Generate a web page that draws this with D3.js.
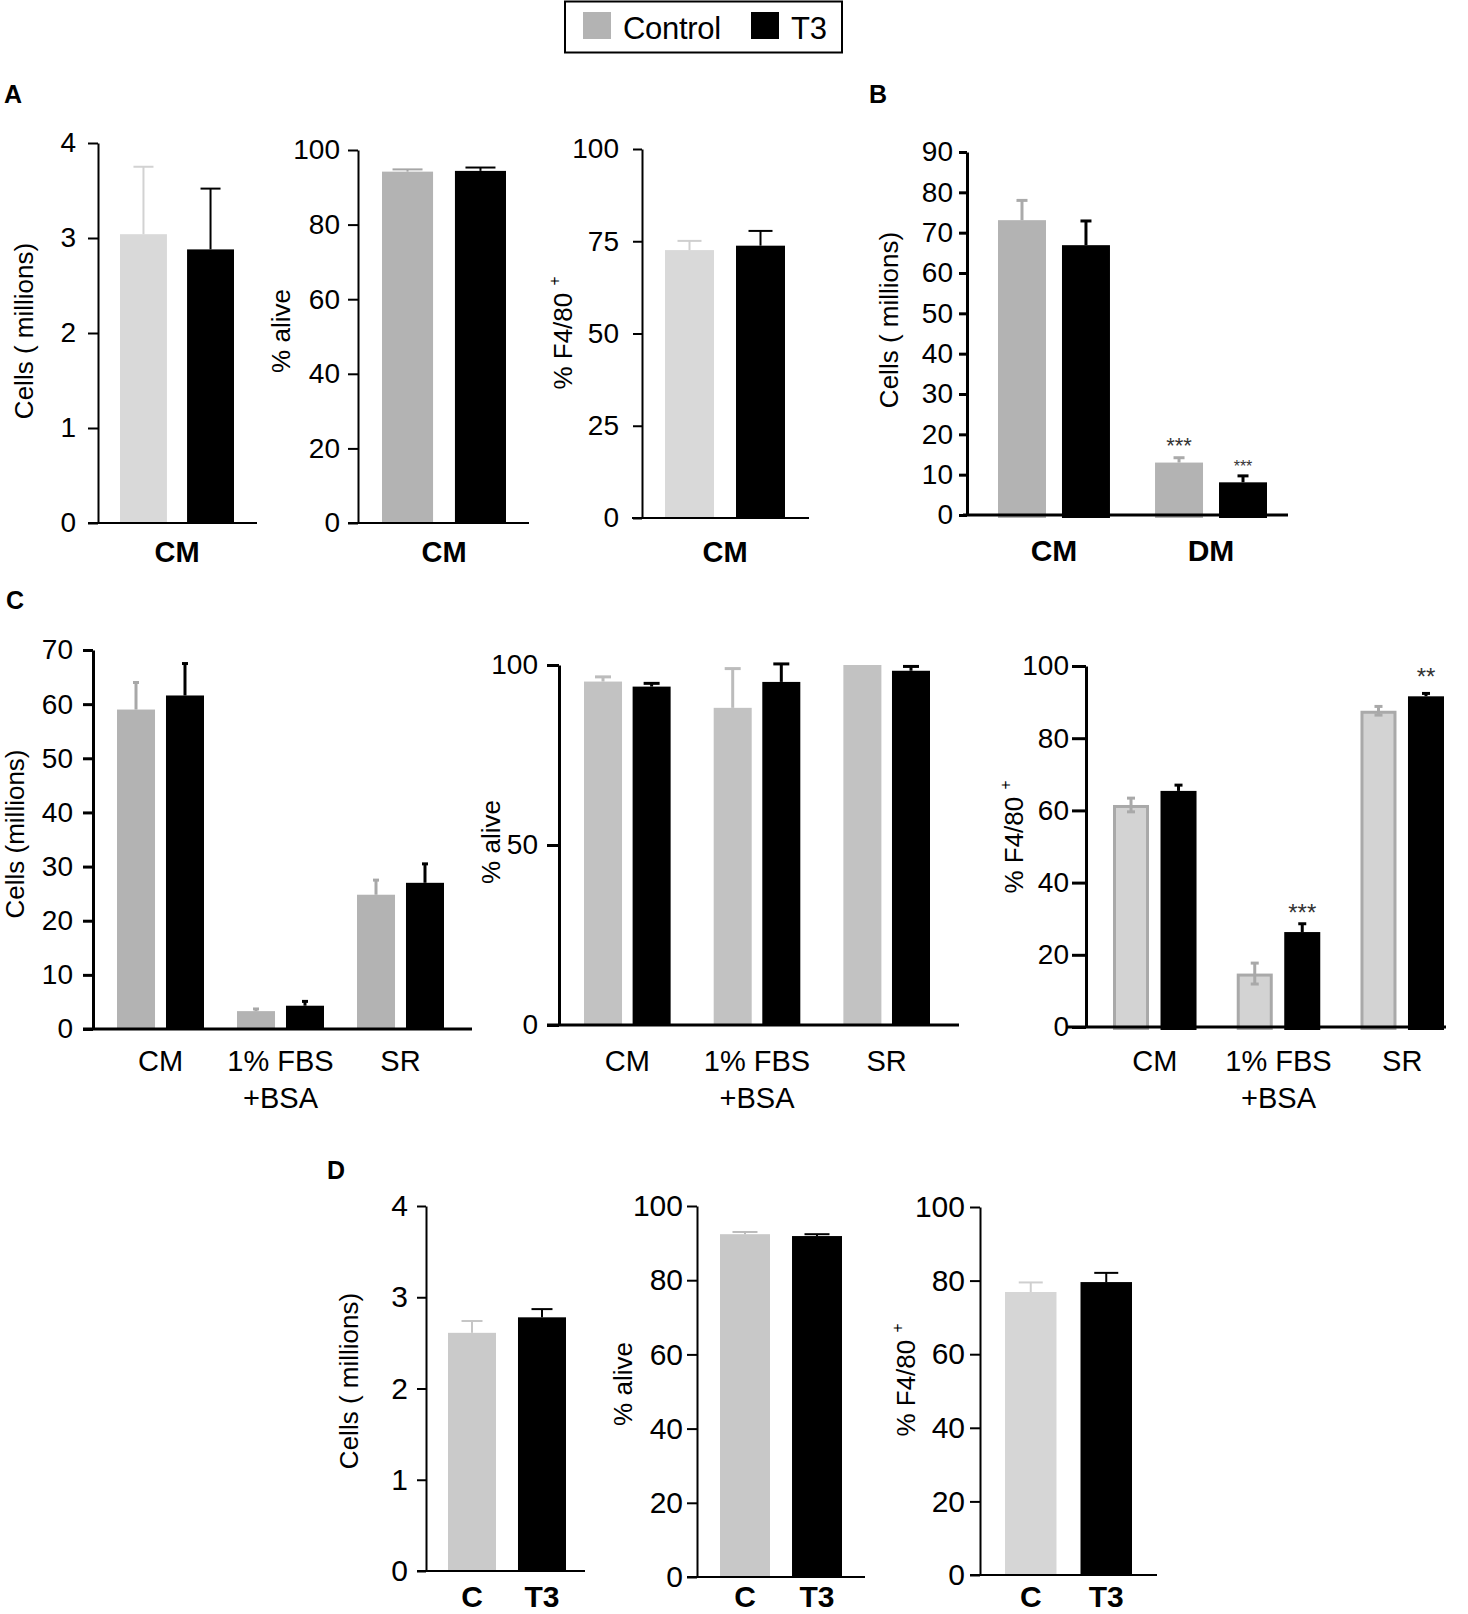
<!DOCTYPE html>
<html>
<head>
<meta charset="utf-8">
<script src="https://cdn.jsdelivr.net/npm/d3@7"></script>
<style>
  body { margin: 0; background: #fff; }
  svg { display: block; font-family: "Liberation Sans", Arial, Helvetica, sans-serif; }
</style>
</head>
<body>
<svg id="fig" width="1468" height="1614"></svg>
<script>
// ---- data (mean, upper error) ----
const series = ["Control", "T3"];

const aCategory = ["CM"];
const aCellsMean = [3.04, 2.88],  aCellsErr = [0.71, 0.64];
const aAliveMean = [94.2, 94.4],  aAliveErr = [0.6, 0.9];
const aF480Mean  = [72.6, 73.8],  aF480Err  = [2.5, 4.0];

const bCategories = ["CM", "DM"];
const bControlMean = [73.1, 13.0], bControlErr = [4.9, 1.2];
const bT3Mean      = [66.9, 8.1],  bT3Err      = [6.0, 1.6];
const bStars = [["DM", "Control", "***", 22], ["DM", "T3", "***", 16]];

const cCategories = ["CM", "1% FBS|+BSA", "SR"];
const c1ControlMean = [59.0, 3.3, 24.8], c1ControlErr = [5.0, 0.4, 2.7];
const c1T3Mean      = [61.6, 4.3, 27.0], c1T3Err      = [5.9, 0.8, 3.5];
const c2ControlMean = [95.4, 88.1, 100], c2ControlErr = [1.3, 10.9, 0];
const c2T3Mean      = [94.0, 95.3, 98.4], c2T3Err     = [0.9, 5.0, 1.2];
const c3ControlMean = [61.5, 14.8, 87.6], c3ControlErr = [1.9, 2.9, 1.2];
const c3T3Mean      = [65.4, 26.3, 91.6], c3T3Err      = [1.6, 2.3, 0.8];
const c3Stars = [["1% FBS|+BSA", "T3", "***", 24], ["SR", "T3", "**", 24]];

const dCategories = ["C", "T3"];
const dCellsMean = [2.61, 2.78], dCellsErr = [0.13, 0.09];
const dAliveMean = [92.4, 91.9], dAliveErr = [0.6, 0.5];
const dF480Mean  = [76.9, 79.6], dF480Err  = [2.6, 2.5];

const ticks4   = [0, 1, 2, 3, 4];
const ticks20  = [0, 20, 40, 60, 80, 100];
const ticks25  = [0, 25, 50, 75, 100];
const ticksB   = d3.range(0, 91, 10);
const ticksC1  = d3.range(0, 71, 10);
const ticks50  = [0, 50, 100];

const svg = d3.select("#fig");

function rowsGrouped(cats, ctrlM, ctrlE, t3M, t3E) {
  return cats.flatMap((c, i) => [
    { cat: c, key: "Control", mean: ctrlM[i], err: ctrlE[i] },
    { cat: c, key: "T3", mean: t3M[i], err: t3E[i] }
  ]);
}
function rowsSingle(cats, m, e) {
  return cats.map((c, i) => ({ cat: c, key: series[i], mean: m[i], err: e[i] }));
}

function drawPanel(o) {
  const g = svg.append("g");
  const y = d3.scaleLinear().domain([0, o.max]).range([o.y0, o.y1]);
  const x = d3.scaleBand().domain(o.cats).range(o.xr).paddingInner(o.gp).paddingOuter(0);
  const xs = d3.scaleBand().domain(series).range([0, x.bandwidth()]).paddingInner(o.bp || 0);
  const bx = d => o.single ? x(d.cat) : x(d.cat) + xs(d.key);
  const bw = o.single ? x.bandwidth() : xs.bandwidth();
  const fill = d => d.key === "T3" ? "#000" : o.ctrl;
  const edge = d => d.key === "T3" ? "#000" : (o.ctrlEdge || o.ctrl);
  const sw = o.barStroke || 0;

  g.selectAll("rect.bar").data(o.rows).join("rect")
    .attr("class", "bar")
    .attr("x", d => bx(d) + sw / 2)
    .attr("width", bw - sw)
    .attr("y", d => y(d.mean) + sw / 2)
    .attr("height", d => y(0) - y(d.mean) + (o.sink || 0) - sw)
    .attr("fill", fill)
    .attr("stroke", sw ? edge : "none")
    .attr("stroke-width", sw);

  const eb = g.selectAll("g.err").data(o.rows.filter(d => d.err > 0)).join("g").attr("class", "err");
  eb.append("line")
    .attr("x1", d => bx(d) + bw / 2).attr("x2", d => bx(d) + bw / 2)
    .attr("y1", d => y(d.mean - (o.twoSided && d.key === "Control" ? d.err : 0)))
    .attr("y2", d => y(d.mean + d.err))
    .attr("stroke", d => d.key === "T3" ? "#000" : o.ctrlErr)
    .attr("stroke-width", o.esw);
  eb.append("line")
    .attr("x1", d => bx(d) + bw / 2 - o.cap / 2).attr("x2", d => bx(d) + bw / 2 + o.cap / 2)
    .attr("y1", d => y(d.mean + d.err)).attr("y2", d => y(d.mean + d.err))
    .attr("stroke", d => d.key === "T3" ? "#000" : o.ctrlErr)
    .attr("stroke-width", o.esw);
  if (o.twoSided) {
    eb.filter(d => d.key === "Control").append("line")
      .attr("x1", d => bx(d) + bw / 2 - o.cap / 2).attr("x2", d => bx(d) + bw / 2 + o.cap / 2)
      .attr("y1", d => y(d.mean - d.err)).attr("y2", d => y(d.mean - d.err))
      .attr("stroke", o.ctrlErr).attr("stroke-width", o.esw);
  }

  // significance marks
  (o.stars || []).forEach(([cat, key, txt, fs], i) => {
    const r = o.rows.find(d => d.cat === cat && d.key === key);
    g.append("text")
      .attr("x", bx(r) + bw / 2)
      .attr("y", y(r.mean + r.err) + o.starDy[i] + fs * 0.55)
      .attr("text-anchor", "middle")
      .attr("font-size", fs)
      .attr("fill", "#333")
      .text(txt);
  });

  // y axis
  const ag = g.append("g")
    .attr("transform", `translate(${o.ax},0)`)
    .call(d3.axisLeft(y).tickValues(o.ticks).tickFormat(d3.format("d"))
      .tickSize(o.tl).tickSizeOuter(0).tickPadding(o.tp))
    .attr("font-family", null).attr("font-size", null);
  ag.select(".domain").attr("stroke-width", o.lw);
  ag.selectAll(".tick line").attr("stroke-width", o.lw);
  ag.selectAll(".tick text").attr("font-size", o.fs).attr("fill", "#000");

  // x baseline
  g.append("line")
    .attr("x1", o.xa[0]).attr("x2", o.xa[1])
    .attr("y1", y(0)).attr("y2", y(0))
    .attr("stroke", "#000").attr("stroke-width", o.lw);

  // category labels
  g.selectAll("text.cat").data(o.cats).join("text")
    .attr("class", "cat")
    .attr("x", c => x(c) + x.bandwidth() / 2)
    .attr("y", o.ly)
    .attr("text-anchor", "middle")
    .attr("font-size", o.lfs)
    .attr("font-weight", o.lbold ? "bold" : "normal")
    .selectAll("tspan").data(c => c.split("|")).join("tspan")
      .attr("x", function () { return d3.select(this.parentNode).attr("x"); })
      .attr("dy", (t, i) => i ? 37 : 0)
      .text(t => t);

  // y title
  const t = g.append("text")
    .attr("transform", `translate(${o.tx},${o.ty}) rotate(-90)`)
    .attr("text-anchor", "middle")
    .attr("font-size", o.tfs);
  if (o.sup) {
    t.append("tspan").text(o.title + " ");
    t.append("tspan").attr("font-size", o.tfs * 0.6).attr("dy", -o.tfs * 0.45).text(o.sup);
  } else {
    t.text(o.title);
  }
}

const base = { esw: 2, lw: 2, fs: 28, tfs: 26 };

// ---- panel A ----
drawPanel({ ...base, cats: aCategory, rows: rowsGrouped(aCategory, [aCellsMean[0]], [aCellsErr[0]], [aCellsMean[1]], [aCellsErr[1]]),
  max: 4, ticks: ticks4, y0: 523, y1: 143, xr: [120, 234], gp: 0, bp: 0.3, ax: 98, xa: [88, 257],
  tl: 10, tp: 12, ctrl: "#d9d9d9", ctrlErr: "#d2d2d2", cap: 20,
  ly: 562, lfs: 29, lbold: true, title: "Cells ( millions)", tx: 33, ty: 331 });
drawPanel({ ...base, cats: aCategory, rows: rowsGrouped(aCategory, [aAliveMean[0]], [aAliveErr[0]], [aAliveMean[1]], [aAliveErr[1]]),
  max: 100, ticks: ticks20, y0: 523, y1: 150, xr: [382, 506], gp: 0, bp: 0.3, ax: 358, xa: [348, 529],
  tl: 10, tp: 8, ctrl: "#b3b3b3", ctrlErr: "#a6a6a6", cap: 30,
  ly: 562, lfs: 29, lbold: true, title: "% alive", tx: 290, ty: 331 });
drawPanel({ ...base, cats: aCategory, rows: rowsGrouped(aCategory, [aF480Mean[0]], [aF480Err[0]], [aF480Mean[1]], [aF480Err[1]]),
  max: 100, ticks: ticks25, y0: 518, y1: 149, xr: [665, 785], gp: 0, bp: 0.31, ax: 642, xa: [632, 809],
  tl: 9, tp: 14, ctrl: "#d9d9d9", ctrlErr: "#cfcfcf", cap: 24,
  ly: 562, lfs: 29, lbold: true, title: "% F4/80", sup: "+", tx: 572, ty: 333 });

// ---- panel B ----
drawPanel({ ...base, esw: 3, lw: 3, cats: bCategories,
  rows: rowsGrouped(bCategories, bControlMean, bControlErr, bT3Mean, bT3Err),
  max: 90, ticks: ticksB, y0: 515, y1: 152, xr: [998, 1267], gp: 0.287, bp: 0.25, ax: 967, xa: [963, 1288],
  tl: 8, tp: 6, ctrl: "#b3b3b3", ctrlErr: "#aaaaaa", cap: 11, sink: 3,
  stars: bStars, starDy: [-17, -13],
  ly: 561, lfs: 30, lbold: true, title: "Cells ( millions)", tx: 898, ty: 320 });

// ---- panel C ----
drawPanel({ ...base, esw: 3, lw: 3, tfs: 26, cats: cCategories,
  rows: rowsGrouped(cCategories, c1ControlMean, c1ControlErr, c1T3Mean, c1T3Err),
  max: 70, ticks: ticksC1, y0: 1029, y1: 650, xr: [117, 444], gp: 0.275, bp: 0.224, ax: 93, xa: [83, 472],
  tl: 10, tp: 10, ctrl: "#b3b3b3", ctrlErr: "#a8a8a8", cap: 6,
  ly: 1071, lfs: 29, title: "Cells (millions)", tx: 24, ty: 834 });
drawPanel({ ...base, esw: 3, lw: 3, tfs: 26, cats: cCategories,
  rows: rowsGrouped(cCategories, c2ControlMean, c2ControlErr, c2T3Mean, c2T3Err),
  max: 100, ticks: ticks50, y0: 1025, y1: 665, xr: [584, 930], gp: 0.332, bp: 0.218, ax: 559, xa: [547, 959],
  tl: 12, tp: 9, ctrl: "#c2c2c2", ctrlErr: "#bcbcbc", cap: 16,
  ly: 1071, lfs: 29, title: "% alive", tx: 500, ty: 842 });
drawPanel({ ...base, esw: 3, lw: 3, tfs: 26, cats: cCategories,
  rows: rowsGrouped(cCategories, c3ControlMean, c3ControlErr, c3T3Mean, c3T3Err),
  max: 100, ticks: ticks20, y0: 1027, y1: 666, xr: [1113, 1444], gp: 0.325, bp: 0.242, ax: 1086, xa: [1067, 1446],
  tl: 14, tp: 3, ctrl: "#d3d3d3", ctrlEdge: "#a9a9a9", barStroke: 3, ctrlErr: "#a9a9a9", cap: 8, sink: 3, twoSided: true,
  stars: c3Stars, starDy: [-16, -22],
  ly: 1071, lfs: 29, title: "% F4/80", sup: "+", tx: 1023, ty: 837 });

// ---- panel D ----
drawPanel({ ...base, fs: 30, single: true, cats: dCategories, rows: rowsSingle(dCategories, dCellsMean, dCellsErr),
  max: 4, ticks: ticks4, y0: 1571, y1: 1206, xr: [448, 566], gp: 0.314, ax: 426, xa: [417, 585],
  tl: 9, tp: 9, ctrl: "#cacaca", ctrlErr: "#c6c6c6", cap: 21,
  ly: 1607, lfs: 30, lbold: true, title: "Cells ( millions)", tx: 358, ty: 1381 });
drawPanel({ ...base, fs: 30, single: true, cats: dCategories, rows: rowsSingle(dCategories, dAliveMean, dAliveErr),
  max: 100, ticks: ticks20, y0: 1577, y1: 1206, xr: [720, 842], gp: 0.306, ax: 697, xa: [687, 865],
  tl: 10, tp: 4, ctrl: "#c8c8c8", ctrlErr: "#bbbbbb", cap: 25,
  ly: 1607, lfs: 30, lbold: true, title: "% alive", tx: 632, ty: 1384 });
drawPanel({ ...base, fs: 30, single: true, cats: dCategories, rows: rowsSingle(dCategories, dF480Mean, dF480Err),
  max: 100, ticks: ticks20, y0: 1575, y1: 1207, xr: [1005, 1132], gp: 0.318, ax: 980, xa: [970, 1157],
  tl: 10, tp: 5, ctrl: "#d6d6d6", ctrlErr: "#cfcfcf", cap: 24,
  ly: 1607, lfs: 30, lbold: true, title: "% F4/80", sup: "+", tx: 915, ty: 1380 });

// ---- panel letters ----
[["A", 4, 103], ["B", 869, 103], ["C", 6, 609], ["D", 327, 1179]].forEach(([l, lx, ly]) =>
  svg.append("text").attr("x", lx).attr("y", ly).attr("font-size", 25).attr("font-weight", "bold").text(l));

// ---- legend ----
const leg = svg.append("g");
leg.append("rect").attr("x", 565).attr("y", 1.5).attr("width", 277).attr("height", 51)
  .attr("fill", "#fff").attr("stroke", "#000").attr("stroke-width", 2);
const legColors = d3.scaleOrdinal().domain(series).range(["#b3b3b3", "#000"]);
const legX = d3.scaleOrdinal().domain(series).range([583, 751]);
series.forEach(s => {
  leg.append("rect").attr("x", legX(s)).attr("y", 12).attr("width", 28).attr("height", 27).attr("fill", legColors(s));
  leg.append("text").attr("x", legX(s) + 40).attr("y", 39).attr("font-size", 31)
    .attr("letter-spacing", -0.3).text(s);
});
</script>
</body>
</html>
